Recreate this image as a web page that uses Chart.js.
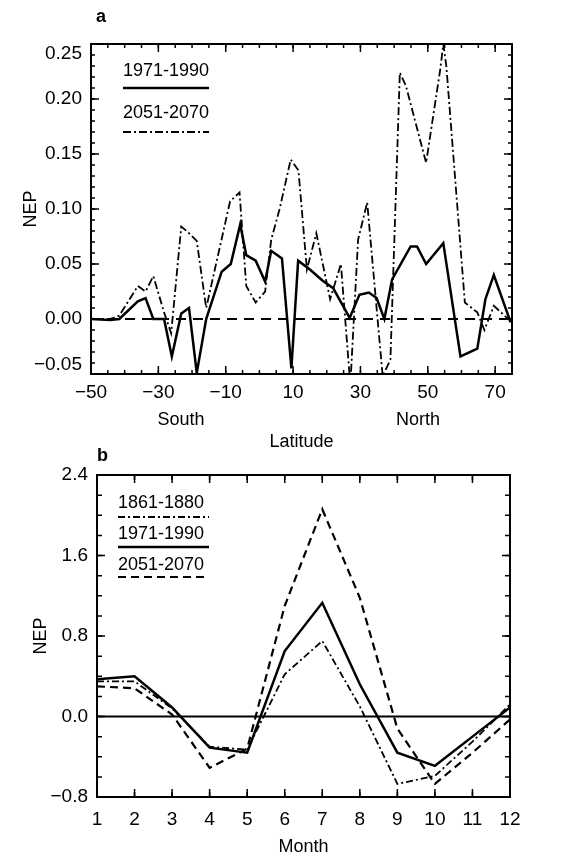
<!DOCTYPE html>
<html>
<head>
<meta charset="utf-8">
<script src="https://cdn.jsdelivr.net/npm/chart.js@4.4.0/dist/chart.umd.min.js"></script>
<style>
  html, body { margin: 0; padding: 0; background: #fff; }
  #wrap { position: relative; width: 562px; height: 855px; overflow: hidden; }
  canvas { position: absolute; left: 0; }
  #chartA { top: 0; }
  #chartB { top: 440px; }
</style>
</head>
<body>
<div id="wrap">
  <canvas id="chartA" width="562" height="460"></canvas>
  <canvas id="chartB" width="562" height="420"></canvas>
</div>
<script>
// panel a: NEP by latitude
const latTicks = [-50, -30, -10, 10, 30, 50, 70];
const nepTicksA = [-0.05, 0, 0.05, 0.1, 0.15, 0.2, 0.25];

const lat1971 = [-50, -44.4, -41.6, -36.1, -33.8, -31.5, -28.3, -26.0, -23.2, -20.9,
  -18.6, -15.8, -11.2, -8.5, -5.7, -3.9, -1.1, 1.7, 3.5, 6.7,
  9.5, 11.5, 15.0, 18.7, 21.9, 26.8, 29.7, 32.5, 34.8, 37.1,
  39.4, 44.9, 46.8, 49.5, 54.6, 59.7, 64.7, 67.1, 69.6, 74.6];
const nep1971Lat = [0, -0.001, 0, 0.016, 0.019, 0, 0, -0.034, 0.005, 0.010,
  -0.049, 0, 0.043, 0.050, 0.086, 0.058, 0.053, 0.034, 0.062, 0.055,
  -0.045, 0.053, 0.045, 0.035, 0.028, 0.001, 0.022, 0.024, 0.019, 0,
  0.036, 0.066, 0.066, 0.050, 0.069, -0.034, -0.027, 0.018, 0.040, -0.003];

const lat2051 = [-50, -44.4, -41.6, -36.1, -33.8, -31.5, -28.3, -26.2, -23.2, -20.9,
  -18.6, -15.8, -8.7, -5.9, -3.9, -1.1, 1.7, 3.5, 6.0, 9.3,
  11.6, 14.1, 16.9, 21.0, 24.2, 27.0, 29.3, 32.0, 36.6, 38.9,
  41.7, 43.5, 49.5, 53.7, 54.6, 55.5, 61.0, 64.7, 66.8, 69.6, 74.6];
const nep2051Lat = [0, 0, 0.003, 0.030, 0.025, 0.039, 0.006, -0.013, 0.084, 0.078,
  0.071, 0.010, 0.107, 0.115, 0.030, 0.015, 0.025, 0.072, 0.100, 0.145,
  0.135, 0.045, 0.078, 0.018, 0.050, -0.060, 0.072, 0.106, -0.052, -0.037,
  0.224, 0.212, 0.142, 0.227, 0.250, 0.230, 0.015, 0.006, -0.010, 0.012, -0.002];

// panel b: NEP by month
const months = [1, 2, 3, 4, 5, 6, 7, 8, 9, 10, 11, 12];
const nepTicksB = [-0.8, 0, 0.8, 1.6, 2.4];
const nep1861Month = [0.35, 0.35, 0.08, -0.30, -0.33, 0.42, 0.75, 0.10, -0.67, -0.59, -0.25, 0.12];
const nep1971Month = [0.37, 0.40, 0.09, -0.31, -0.36, 0.65, 1.13, 0.32, -0.36, -0.49, -0.20, 0.09];
const nep2051Month = [0.30, 0.28, 0.02, -0.51, -0.32, 1.10, 2.06, 1.18, -0.12, -0.67, -0.36, -0.03];

const FONT = "'Liberation Sans', Arial, Helvetica, sans-serif";
Chart.defaults.font.family = FONT;
Chart.defaults.color = '#000';

const minus = s => s.replace('-', '\u2212');
const pts = (xs, ys) => xs.map((x, i) => ({ x: x, y: ys[i] }));

// box, inward tick marks, zero line, legend and extra labels
const framePlugin = {
  id: 'frame',
  beforeDatasetsDraw(chart, args, o) {
    const { ctx, chartArea: a, scales: { y } } = chart;
    const py = y.getPixelForValue(0);
    ctx.save();
    ctx.strokeStyle = '#000';
    ctx.lineWidth = o.zeroWidth;
    ctx.setLineDash(o.zeroDash);
    ctx.beginPath();
    ctx.moveTo(a.left, py);
    ctx.lineTo(a.right, py);
    ctx.stroke();
    ctx.restore();
  },
  afterDatasetsDraw(chart, args, o) {
    const { ctx, chartArea: a, scales: { x, y } } = chart;
    ctx.save();
    ctx.strokeStyle = '#000';
    ctx.setLineDash([]);
    const marks = (scale, step, len) => {
      const n = Math.round((scale.max - scale.min) / step + 1e-6);
      for (let i = 0; i <= n; i++) {
        const p = scale.getPixelForValue(scale.min + i * step);
        ctx.beginPath();
        if (scale.isHorizontal()) {
          ctx.moveTo(p, a.bottom); ctx.lineTo(p, a.bottom - len);
          ctx.moveTo(p, a.top); ctx.lineTo(p, a.top + len);
        } else {
          ctx.moveTo(a.left, p); ctx.lineTo(a.left + len, p);
          ctx.moveTo(a.right, p); ctx.lineTo(a.right - len, p);
        }
        ctx.stroke();
      }
    };
    ctx.lineWidth = 1.5;
    marks(x, o.xMinor, o.minorLen);
    marks(x, o.xMajor, o.majorLen);
    marks(y, o.yMinor, o.minorLen);
    marks(y, o.yMajor, o.majorLen);
    ctx.lineWidth = 2;
    ctx.strokeRect(a.left, a.top, a.right - a.left, a.bottom - a.top);
    ctx.restore();
  },
  afterDraw(chart, args, o) {
    const { ctx, chartArea: a, scales: { x } } = chart;
    ctx.save();
    ctx.fillStyle = '#000';
    ctx.strokeStyle = '#000';
    ctx.textBaseline = 'middle';
    ctx.textAlign = 'left';
    // legend: label text over a sample of the line
    ctx.font = '18px ' + FONT;
    const L = o.legend;
    chart.data.datasets.forEach((ds, i) => {
      const r = L.rows[i];
      const x0 = a.left + L.left;
      ctx.fillText(ds.label, x0, a.top + r[0]);
      ctx.lineWidth = ds.borderWidth;
      ctx.setLineDash(ds.borderDash || []);
      ctx.beginPath();
      ctx.moveTo(x0, a.top + r[1]);
      ctx.lineTo(x0 + L.width, a.top + r[1]);
      ctx.stroke();
    });
    // panel letter
    ctx.font = 'bold 18px ' + FONT;
    ctx.fillText(o.letter, o.letterX, o.letterY);
    // South / North under the latitude axis
    ctx.font = '18px ' + FONT;
    ctx.textAlign = 'center';
    (o.notes || []).forEach(n => {
      ctx.fillText(n.text, x.getPixelForValue(n.at), a.bottom + n.dy);
    });
    ctx.restore();
  }
};

const tickFont = { size: 19, lineHeight: 1.0 };
const titleFont = { size: 18 };

new Chart(document.getElementById('chartA'), {
  type: 'line',
  data: {
    datasets: [
      {
        label: '1971-1990',
        data: pts(lat1971, nep1971Lat),
        borderColor: '#000',
        borderWidth: 2.5,
        pointRadius: 0,
        tension: 0,
      },
      {
        label: '2051-2070',
        data: pts(lat2051, nep2051Lat),
        borderColor: '#000',
        borderWidth: 1.8,
        borderDash: [8, 3, 2, 3],
        pointRadius: 0,
        tension: 0,
      },
    ],
  },
  options: {
    responsive: false,
    animation: false,
    layout: { padding: { left: 0, right: 50, top: 44, bottom: 0 } },
    plugins: {
      legend: { display: false },
      tooltip: { enabled: false },
      frame: {
        zeroDash: [10, 7], zeroWidth: 2,
        xMinor: 5, xMajor: 20, yMinor: 0.01, yMajor: 0.05,
        minorLen: 4, majorLen: 8,
        legend: { left: 32, width: 86, rows: [[27, 44], [69, 88]] },
        letter: 'a', letterX: 96, letterY: 17,
        notes: [{ text: 'South', at: -23.3, dy: 46 }, { text: 'North', at: 47.1, dy: 46 }],
      },
    },
    scales: {
      x: {
        type: 'linear',
        min: -50,
        max: 75,
        afterBuildTicks: s => { s.ticks = latTicks.map(v => ({ value: v })); },
        afterFit: s => { s.height = 86; },
        grid: { display: false, drawTicks: false },
        border: { display: false },
        ticks: { font: tickFont, padding: 9, maxRotation: 0, autoSkip: false,
          callback: v => minus(String(v)) },
        title: { display: true, text: 'Latitude', font: titleFont, padding: { top: 0, bottom: 7 } },
      },
      y: {
        min: -0.05,
        max: 0.25,
        afterBuildTicks: s => { s.ticks = nepTicksA.map(v => ({ value: v })); },
        afterFit: s => { s.width = 91; },
        grid: { display: false, drawTicks: false },
        border: { display: false },
        ticks: {
          font: tickFont, padding: 9,
          callback: (v, i, t) => {
            const s = minus(v.toFixed(2));
            if (i === t.length - 1) return ['', s];
            if (i === 0) return [s, ''];
            return s;
          },
        },
        title: { display: true, text: 'NEP', font: titleFont, padding: { top: 20, bottom: 0 } },
      },
    },
  },
  plugins: [framePlugin],
});

new Chart(document.getElementById('chartB'), {
  type: 'line',
  data: {
    datasets: [
      {
        label: '1861-1880',
        data: pts(months, nep1861Month),
        borderColor: '#000',
        borderWidth: 1.8,
        borderDash: [7, 3, 2, 3],
        pointRadius: 0,
        tension: 0,
      },
      {
        label: '1971-1990',
        data: pts(months, nep1971Month),
        borderColor: '#000',
        borderWidth: 2.5,
        pointRadius: 0,
        tension: 0,
      },
      {
        label: '2051-2070',
        data: pts(months, nep2051Month),
        borderColor: '#000',
        borderWidth: 2.2,
        borderDash: [8, 5],
        pointRadius: 0,
        tension: 0,
      },
    ],
  },
  options: {
    responsive: false,
    animation: false,
    layout: { padding: { left: 0, right: 52, top: 35, bottom: 0 } },
    plugins: {
      legend: { display: false },
      tooltip: { enabled: false },
      frame: {
        zeroDash: [], zeroWidth: 2,
        xMinor: 1, xMajor: 1, yMinor: 0.2, yMajor: 0.8,
        minorLen: 5, majorLen: 8,
        legend: { left: 21, width: 91, rows: [[28, 42], [59, 72], [90, 102]] },
        letter: 'b', letterX: 97, letterY: 16,
      },
    },
    scales: {
      x: {
        type: 'linear',
        min: 1,
        max: 12,
        afterBuildTicks: s => { s.ticks = months.map(v => ({ value: v })); },
        afterFit: s => { s.height = 63; },
        grid: { display: false, drawTicks: false },
        border: { display: false },
        ticks: { font: tickFont, padding: 13, maxRotation: 0, autoSkip: false },
        title: { display: true, text: 'Month', font: titleFont, padding: { top: 0, bottom: 2 } },
      },
      y: {
        min: -0.8,
        max: 2.4,
        afterBuildTicks: s => { s.ticks = nepTicksB.map(v => ({ value: v })); },
        afterFit: s => { s.width = 97; },
        grid: { display: false, drawTicks: false },
        border: { display: false },
        ticks: { font: tickFont, padding: 9, callback: v => minus(v.toFixed(1)) },
        title: { display: true, text: 'NEP', font: titleFont, padding: { top: 30, bottom: 0 } },
      },
    },
  },
  plugins: [framePlugin],
});
</script>
</body>
</html>
